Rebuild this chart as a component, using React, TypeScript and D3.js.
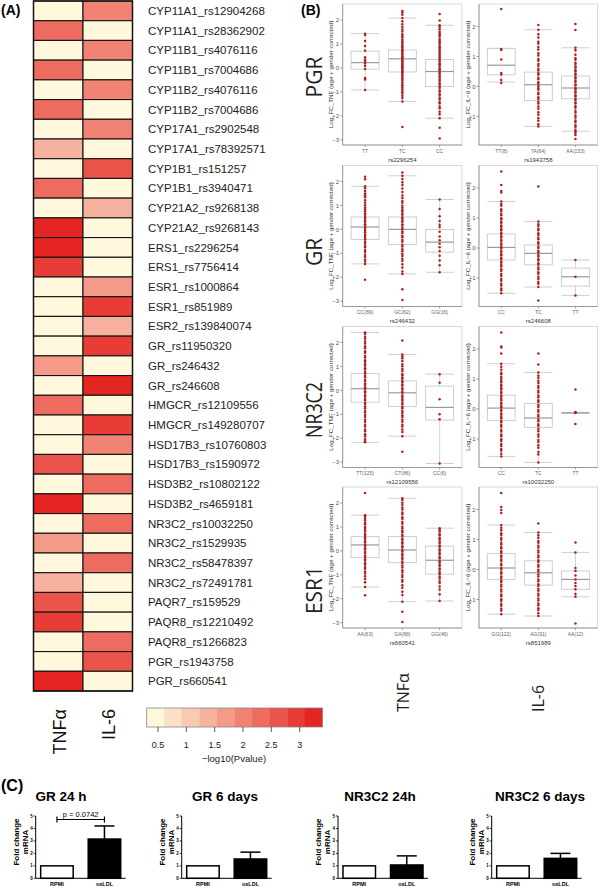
import React from 'react';
import * as d3 from 'd3';

// ---------------- Panel A data ----------------
const snpLabels = [
  'CYP11A1_rs12904268', 'CYP11A1_rs28362902', 'CYP11B1_rs4076116', 'CYP11B1_rs7004686',
  'CYP11B2_rs4076116', 'CYP11B2_rs7004686', 'CYP17A1_rs2902548', 'CYP17A1_rs78392571',
  'CYP1B1_rs151257', 'CYP1B1_rs3940471', 'CYP21A2_rs9268138', 'CYP21A2_rs9268143',
  'ERS1_rs2296254', 'ERS1_rs7756414', 'ESR1_rs1000864', 'ESR1_rs851989',
  'ESR2_rs139840074', 'GR_rs11950320', 'GR_rs246432', 'GR_rs246608',
  'HMGCR_rs12109556', 'HMGCR_rs149280707', 'HSD17B3_rs10760803', 'HSD17B3_rs1590972',
  'HSD3B2_rs10802122', 'HSD3B2_rs4659181', 'NR3C2_rs10032250', 'NR3C2_rs1529935',
  'NR3C2_rs58478397', 'NR3C2_rs72491781', 'PAQR7_rs159529', 'PAQR8_rs12210492',
  'PAQR8_rs1266823', 'PGR_rs1943758', 'PGR_rs660541',
];
const tnfLogP = [
  0, 2.3, 0, 2.3, 0, 2.3, 0, 1.35, 0, 2.3, 0, 3.25,
  3.3, 2.9, 0, 0, 0, 0, 1.7, 0, 2.3, 0, 0, 2.6,
  0, 3.25, 0, 1.7, 0, 1.35, 2.5, 2.85, 0, 0, 3.2,
];
const il6LogP = [
  1.95, 0, 1.95, 0, 1.95, 0, 1.95, 0, 2.6, 0, 1.35, 0,
  0, 0, 1.75, 2.9, 1.35, 2.9, 0, 3.2, 0, 2.85, 2.05, 0,
  2.25, 0, 2.3, 0, 2.25, 0, 0, 0, 2.25, 2.55, 0,
];
const heatColumns = ['TNFα', 'IL-6'];
const legendTicks = [0.5, 1, 1.5, 2, 2.5, 3];
const legendDomain = [0.3, 3.4];
const legendBins = 10;

// ---------------- Panel B data ----------------
const geneRows = ['PGR', 'GR', 'NR3C2', 'ESR1'];
const tnfSnps = ['rs2296254', 'rs246432', 'rs12109556', 'rs660541'];
const il6Snps = ['rs1943758', 'rs246608', 'rs10032250', 'rs851989'];
const tnfGroupLabels = [
  ['TT', 'TC', 'CC'], ['CC(89)', 'GC(62)', 'GG(16)'], ['TT(125)', 'CT(86)', 'CC(6)'], ['AA(63)', 'GA(88)', 'GG(46)'],
];
const il6GroupLabels = [
  ['TT(8)', 'TA(64)', 'AA(153)'], ['CC', 'TC', 'TT'], ['CC', 'TC', 'TT'], ['GG(122)', 'AG(91)', 'AA(12)'],
];
// [lower whisker, Q1, median, Q3, upper whisker]
const pgrTnfStats = [[-0.92, -0.05, 0.22, 0.7, 1.43], [-1.4, -0.17, 0.38, 0.75, 2.08], [-2.1, -0.78, -0.15, 0.35, 1.78]];
const grTnfStats = [[-1.44, -0.42, 0.1, 0.52, 1.8], [-1.86, -0.63, 0.0, 0.52, 2.24], [-1.79, -0.95, -0.53, 0.0, 1.25]];
const nr3c2TnfStats = [[-2.17, -0.49, 0.07, 0.71, 2.42], [-1.91, -0.67, -0.1, 0.4, 1.5], [-3.05, -1.24, -0.71, 0.18, 0.68]];
const esr1TnfStats = [[-1.51, -0.28, 0.25, 0.6, 1.49], [-2.12, -0.49, 0.04, 0.6, 2.2], [-2.09, -0.97, -0.39, 0.2, 0.95]];
const pgrIl6Stats = [[0.15, 0.39, 0.71, 1.27, 1.27], [-1.33, -0.47, 0.06, 0.48, 1.89], [-1.49, -0.41, -0.05, 0.35, 1.29]];
const grIl6Stats = [[-1.51, -0.4, 0.02, 0.47, 1.55], [-1.3, -0.56, -0.18, 0.1, 0.88], [-1.58, -1.27, -0.96, -0.67, -0.4]];
const nr3c2Il6Stats = [[-1.58, -0.38, 0.03, 0.46, 1.51], [-1.78, -0.61, -0.3, 0.18, 1.22], [-0.13, -0.13, -0.13, -0.13, -0.13]];
const esr1Il6Stats = [[-1.49, -0.33, 0.05, 0.53, 1.48], [-1.55, -0.52, -0.11, 0.29, 1.23], [-0.91, -0.66, -0.33, -0.05, 0.57]];

const pgrTnfPoints = [
  [1.43, 1.38, 1.12, 0.92, 0.72, 0.45, 0.35, 0.28, 0.18, 0.08, -0.05, -0.42, -0.48, -0.92],
  [2.38, 2.31, 2.22, 2.08, 1.95, 1.82, 1.71, 1.6, 1.52, 1.41, 1.33, 1.27, 1.18, 1.1, 1.04, 0.97, 0.9, 0.85, 0.79, 0.73, 0.69, 0.62, 0.57, 0.5, 0.46, 0.41, 0.37, 0.31, 0.27, 0.22, 0.16, 0.12, 0.07, 0.02, -0.03, -0.09, -0.14, -0.19, -0.24, -0.31, -0.39, -0.46, -0.53, -0.61, -0.69, -0.76, -0.83, -0.91, -0.99, -1.06, -1.16, -1.26, -1.4, -2.47],
  [2.25, 1.98, 1.78, 1.71, 1.62, 1.51, 1.44, 1.37, 1.31, 1.21, 1.14, 1.07, 1.01, 0.92, 0.86, 0.79, 0.72, 0.67, 0.59, 0.54, 0.46, 0.41, 0.34, 0.29, 0.21, 0.15, 0.09, 0.01, -0.06, -0.11, -0.19, -0.24, -0.33, -0.39, -0.48, -0.54, -0.63, -0.69, -0.78, -0.84, -0.94, -0.99, -1.09, -1.15, -1.26, -1.32, -1.43, -1.49, -1.61, -1.69, -1.83, -1.94, -2.1, -2.5, -2.95],
];
const grTnfPoints = [
  [2.2, 2.1, 1.8, 1.72, 1.61, 1.5, 1.43, 1.34, 1.22, 1.11, 1.01, 0.92, 0.84, 0.76, 0.67, 0.61, 0.52, 0.46, 0.37, 0.31, 0.22, 0.16, 0.08, 0.02, -0.06, -0.12, -0.21, -0.27, -0.36, -0.42, -0.51, -0.57, -0.67, -0.74, -0.86, -0.94, -1.06, -1.14, -1.26, -1.34, -1.44, -2.1],
  [2.38, 2.24, 2.11, 1.97, 1.86, 1.71, 1.56, 1.42, 1.31, 1.19, 1.11, 0.99, 0.91, 0.81, 0.76, 0.67, 0.61, 0.51, 0.46, 0.37, 0.31, 0.21, 0.16, 0.07, 0.01, -0.09, -0.15, -0.26, -0.33, -0.44, -0.51, -0.64, -0.71, -0.83, -0.91, -1.03, -1.11, -1.23, -1.31, -1.46, -1.59, -1.76, -1.86, -2.5, -2.95],
  [1.25, 0.85, 0.55, 0.35, 0.2, 0.1, -0.1, -0.3, -0.45, -0.6, -0.75, -0.9, -1.1, -1.3, -1.5, -1.79],
];
const nr3c2TnfPoints = [
  [2.42, 2.36, 2.24, 2.16, 2.04, 1.96, 1.84, 1.76, 1.64, 1.56, 1.44, 1.37, 1.26, 1.19, 1.09, 1.03, 0.93, 0.87, 0.77, 0.71, 0.61, 0.55, 0.45, 0.39, 0.29, 0.23, 0.13, 0.07, -0.03, -0.09, -0.19, -0.25, -0.35, -0.41, -0.51, -0.57, -0.67, -0.74, -0.85, -0.92, -1.03, -1.11, -1.23, -1.31, -1.43, -1.51, -1.63, -1.71, -1.83, -1.91, -2.03, -2.11, -2.17],
  [2.08, 1.5, 1.43, 1.34, 1.23, 1.09, 1.01, 0.89, 0.81, 0.69, 0.63, 0.54, 0.49, 0.39, 0.33, 0.24, 0.19, 0.09, 0.04, -0.06, -0.11, -0.21, -0.27, -0.37, -0.43, -0.53, -0.59, -0.69, -0.75, -0.86, -0.93, -1.04, -1.11, -1.23, -1.31, -1.43, -1.51, -1.63, -1.74, -1.91, -2.56],
  [0.68, 0.32, -0.37, -1.0, -1.2, -3.05],
];
const esr1TnfPoints = [
  [2.42, 1.49, 1.43, 1.34, 1.27, 1.17, 1.11, 1.01, 0.96, 0.87, 0.81, 0.71, 0.66, 0.57, 0.51, 0.41, 0.36, 0.27, 0.21, 0.11, 0.06, -0.04, -0.09, -0.19, -0.25, -0.35, -0.41, -0.51, -0.57, -0.67, -0.74, -0.86, -0.94, -1.06, -1.17, -1.31, -1.51, -1.85],
  [2.2, 2.13, 2.01, 1.93, 1.81, 1.73, 1.61, 1.53, 1.41, 1.33, 1.21, 1.13, 1.01, 0.94, 0.84, 0.78, 0.68, 0.62, 0.52, 0.46, 0.36, 0.3, 0.2, 0.14, 0.04, -0.02, -0.12, -0.18, -0.28, -0.34, -0.44, -0.5, -0.61, -0.69, -0.81, -0.89, -1.01, -1.09, -1.21, -1.29, -1.43, -1.54, -1.71, -1.84, -2.12, -2.54, -2.97],
  [0.95, 0.87, 0.81, 0.71, 0.65, 0.55, 0.49, 0.39, 0.33, 0.23, 0.17, 0.07, 0.01, -0.09, -0.15, -0.25, -0.31, -0.41, -0.47, -0.57, -0.63, -0.73, -0.79, -0.89, -0.96, -1.07, -1.14, -1.26, -1.34, -1.49, -1.61, -1.81, -2.09],
];
const pgrIl6Points = [
  [2.58, 1.25, 1.22, 0.9, 0.45, 0.4, 0.22, 0.12],
  [2.05, 1.89, 1.74, 1.63, 1.49, 1.43, 1.32, 1.23, 1.11, 1.03, 0.92, 0.86, 0.75, 0.69, 0.59, 0.53, 0.44, 0.39, 0.29, 0.24, 0.14, 0.09, 0.01, -0.06, -0.11, -0.21, -0.26, -0.36, -0.42, -0.51, -0.57, -0.67, -0.74, -0.86, -0.94, -1.06, -1.14, -1.26, -1.33],
  [2.08, 1.88, 1.29, 1.21, 1.06, 0.94, 0.89, 0.79, 0.75, 0.67, 0.63, 0.55, 0.51, 0.43, 0.39, 0.31, 0.27, 0.19, 0.15, 0.07, 0.03, -0.05, -0.09, -0.17, -0.21, -0.29, -0.33, -0.41, -0.45, -0.53, -0.57, -0.66, -0.71, -0.81, -0.87, -0.97, -1.03, -1.13, -1.19, -1.29, -1.35, -1.44, -1.49, -1.55, -1.62, -1.75],
];
const grIl6Points = [
  [2.55, 2.1, 1.9, 1.85, 1.55, 1.47, 1.41, 1.29, 1.23, 1.14, 1.09, 0.99, 0.95, 0.87, 0.83, 0.75, 0.71, 0.63, 0.59, 0.51, 0.47, 0.39, 0.35, 0.27, 0.23, 0.15, 0.11, 0.03, -0.01, -0.09, -0.13, -0.21, -0.25, -0.33, -0.37, -0.45, -0.49, -0.57, -0.62, -0.71, -0.77, -0.87, -0.93, -1.03, -1.09, -1.19, -1.25, -1.35, -1.41, -1.51],
  [2.05, 0.88, 0.79, 0.73, 0.64, 0.59, 0.49, 0.43, 0.34, 0.29, 0.19, 0.14, 0.05, 0.0, -0.09, -0.14, -0.23, -0.28, -0.37, -0.42, -0.51, -0.56, -0.65, -0.71, -0.81, -0.87, -0.97, -1.03, -1.13, -1.19, -1.3, -1.75],
  [-0.4, -0.96, -1.58],
];
const nr3c2Il6Points = [
  [2.55, 2.08, 2.05, 1.85, 1.51, 1.41, 1.31, 1.21, 1.16, 1.07, 1.01, 0.93, 0.89, 0.81, 0.77, 0.69, 0.65, 0.57, 0.53, 0.45, 0.41, 0.33, 0.29, 0.21, 0.17, 0.09, 0.05, -0.03, -0.07, -0.15, -0.19, -0.27, -0.31, -0.39, -0.44, -0.53, -0.59, -0.69, -0.75, -0.85, -0.91, -1.01, -1.07, -1.17, -1.23, -1.33, -1.39, -1.49, -1.58],
  [1.85, 1.48, 1.22, 1.11, 1.03, 0.93, 0.87, 0.77, 0.71, 0.61, 0.55, 0.45, 0.39, 0.29, 0.23, 0.13, 0.07, -0.03, -0.09, -0.19, -0.25, -0.35, -0.41, -0.51, -0.57, -0.67, -0.74, -0.85, -0.92, -1.03, -1.1, -1.21, -1.29, -1.43, -1.52, -1.78],
  [0.65, -0.1, -0.12, -0.13, -0.5],
];
const esr1Il6Points = [
  [2.55, 2.08, 1.98, 1.88, 1.48, 1.39, 1.31, 1.21, 1.15, 1.05, 0.99, 0.89, 0.84, 0.75, 0.7, 0.61, 0.56, 0.47, 0.42, 0.33, 0.28, 0.19, 0.14, 0.05, 0.0, -0.09, -0.14, -0.23, -0.28, -0.37, -0.42, -0.51, -0.57, -0.67, -0.73, -0.83, -0.89, -0.99, -1.05, -1.15, -1.21, -1.31, -1.37, -1.49],
  [1.53, 1.23, 1.14, 1.06, 0.95, 0.89, 0.79, 0.73, 0.63, 0.57, 0.47, 0.41, 0.31, 0.25, 0.15, 0.09, -0.01, -0.07, -0.17, -0.23, -0.33, -0.39, -0.49, -0.55, -0.65, -0.71, -0.81, -0.87, -0.97, -1.03, -1.13, -1.19, -1.29, -1.35, -1.46, -1.55],
  [0.9, 0.57, 0.05, -0.05, -0.2, -0.33, -0.45, -0.55, -0.66, -0.82, -0.91, -1.8],
];
const tnfStatsByRow = [pgrTnfStats, grTnfStats, nr3c2TnfStats, esr1TnfStats];
const il6StatsByRow = [pgrIl6Stats, grIl6Stats, nr3c2Il6Stats, esr1Il6Stats];
const tnfPointsByRow = [pgrTnfPoints, grTnfPoints, nr3c2TnfPoints, esr1TnfPoints];
const il6PointsByRow = [pgrIl6Points, grIl6Points, nr3c2Il6Points, esr1Il6Points];
const tnfYDomain = [-3.22, 2.67];
const il6YDomain = [-1.95, 2.75];
const tnfYTicks = [-3, -2, -1, 0, 1, 2];
const il6YTicks = [-1, 0, 1, 2];
const bottomCytokines = ['TNFα', 'IL-6'];

// ---------------- Panel C data ----------------
const barTitles = ['GR 24 h', 'GR 6 days', 'NR3C2 24h', 'NR3C2 6 days'];
const barCategories = ['RPMI', 'oxLDL'];
const rpmiFold = [1, 1, 1, 1];
const oxldlFold = [3.15, 1.55, 1.07, 1.6];
const oxldlSem = [1.05, 0.55, 0.73, 0.4];
const foldTicks = [0, 1, 2, 3, 4, 5];
const pLabel = 'p = 0.0742';

// ---------------- Layout ----------------
const SANS = 'Liberation Sans, Arial, sans-serif';
const OPEN = 'Open Sans, DejaVu Sans, sans-serif';
const rowTops = [4, 165.5, 326.5, 487];
const boxPanelH = 141;
const rowLabelY = [77, 252, 410, 590];
const barAxisX = [35.7, 181.7, 338, 491.7];
const barTitleX = [61, 225, 380, 540];

const binColors = d3.range(legendBins).map((i) => d3.interpolateRgb('#FFF8DC', '#E52521')(i / (legendBins - 1)));
const colorScale = d3.scaleQuantize<string>().domain(legendDomain).range(binColors);

function Heatmap() {
  const yBand = d3.scaleBand<string>().domain(snpLabels).range([1, 691]);
  const xBand = d3.scaleBand<string>().domain(heatColumns).range([33.5, 132.5]);
  const cols = [tnfLogP, il6LogP];
  const lx = d3.scaleLinear().domain(legendDomain).range([146.7, 322.3]);
  const binW = (lx(legendDomain[1]) - lx(legendDomain[0])) / legendBins;
  return (
    <g>
      {heatColumns.map((c, ci) =>
        snpLabels.map((s, ri) => (
          <rect key={c + s} x={xBand(c)} y={yBand(s)} width={xBand.bandwidth()} height={yBand.bandwidth()}
            fill={colorScale(Math.max(cols[ci][ri], legendDomain[0]))} stroke="#151515" strokeWidth={1.1} />
        ))
      )}
      <rect x={33.5} y={1} width={99} height={690} fill="none" stroke="#111" strokeWidth={1.4} />
      {snpLabels.map((s) => (
        <text key={s} x={148} y={yBand(s)! + yBand.bandwidth() / 2} dy="0.36em" fontSize={11.5} fontFamily={SANS} fill="#222">{s}</text>
      ))}
      {heatColumns.map((c) => (
        <text key={c} transform={`translate(${xBand(c)! + xBand.bandwidth() / 2 + 1},709) rotate(-90)`} dy="0.36em"
          textAnchor="end" fontSize={18} fontFamily={SANS} fill="#111">{c}</text>
      ))}
      {binColors.map((col, i) => (
        <rect key={i} x={lx(legendDomain[0]) + i * binW} y={708} width={binW + 0.3} height={19} fill={col} />
      ))}
      <rect x={146.7} y={708} width={175.6} height={19} fill="none" stroke="#888" strokeWidth={0.8} />
      {legendTicks.map((t) => (
        <g key={t}>
          <line x1={lx(t)} x2={lx(t)} y1={727} y2={732} stroke="#333" strokeWidth={0.8} />
          <text x={lx(t)} y={747.5} textAnchor="middle" fontSize={9} fontFamily={SANS} fill="#222">{t}</text>
        </g>
      ))}
      <text x={234} y={762} textAnchor="middle" fontSize={9.5} fontFamily={SANS} fill="#222">−log10(Pvalue)</text>
    </g>
  );
}

function BoxPanel(props: {
  x0: number; x1: number; top: number; domain: number[]; ticks: number[];
  groups: string[]; stats: number[][]; points: number[][]; yTitle: string; xTitle: string;
}) {
  const { x0, x1, top, domain, ticks, groups, stats, points, yTitle, xTitle } = props;
  const bottom = top + boxPanelH;
  const y = d3.scaleLinear().domain(domain).range([bottom, top]);
  const x = d3.scaleLinear().domain([0.4, groups.length + 0.6]).range([x0, x1]);
  const bw = 0.75 * (x(2) - x(1));
  const boxCol = '#c9c9c9';
  return (
    <g>
      <rect x={x0} y={top} width={x1 - x0} height={boxPanelH} fill="#fff" stroke="#cfcfcf" strokeWidth={0.8} />
      {stats.map((s, i) => {
        const cx = x(i + 1);
        const [lo, q1, med, q3, hi] = s;
        return (
          <g key={i}>
            <line x1={cx} x2={cx} y1={y(hi)} y2={y(q3)} stroke={boxCol} strokeWidth={0.8} />
            <line x1={cx} x2={cx} y1={y(q1)} y2={y(lo)} stroke={boxCol} strokeWidth={0.8} />
            <line x1={cx - bw / 2} x2={cx + bw / 2} y1={y(hi)} y2={y(hi)} stroke={boxCol} strokeWidth={0.9} />
            <line x1={cx - bw / 2} x2={cx + bw / 2} y1={y(lo)} y2={y(lo)} stroke={boxCol} strokeWidth={0.9} />
            <rect x={cx - bw / 2} y={y(q3)} width={bw} height={Math.max(y(q1) - y(q3), 0.01)} fill="#fff" stroke={boxCol} strokeWidth={0.9} />
            <line x1={cx - bw / 2} x2={cx + bw / 2} y1={y(med)} y2={y(med)} stroke="#9a9a9a" strokeWidth={1.2} />
          </g>
        );
      })}
      {points.map((pts, i) =>
        pts.map((v, j) => <circle key={i + '-' + j} cx={x(i + 1)} cy={y(v)} r={1.25} fill="#B01F1F" />)
      )}
      <line x1={x0} x2={x0} y1={top} y2={bottom} stroke="#8a8a8a" strokeWidth={0.8} />
      <line x1={x0} x2={x1} y1={bottom} y2={bottom} stroke="#8a8a8a" strokeWidth={0.8} />
      {ticks.map((t) => (
        <g key={t}>
          <line x1={x0 - 2.5} x2={x0} y1={y(t)} y2={y(t)} stroke="#777" strokeWidth={0.7} />
          <text x={x0 - 3.5} y={y(t)} dy="0.35em" textAnchor="end" fontSize={6} fontFamily={SANS} fill="#555">{t < 0 ? '−' + Math.abs(t) : t}</text>
        </g>
      ))}
      {groups.map((g, i) => (
        <g key={g}>
          <line x1={x(i + 1)} x2={x(i + 1)} y1={bottom} y2={bottom + 2} stroke="#777" strokeWidth={0.7} />
          <text x={x(i + 1)} y={bottom + 7.5} textAnchor="middle" fontSize={5} fontFamily={SANS} fill="#666">{g}</text>
        </g>
      ))}
      <text x={(x0 + x1) / 2} y={bottom + 16.5} textAnchor="middle" fontSize={6} fontFamily={SANS} fill="#333">{xTitle}</text>
      <text transform={`translate(${x0 - 11.5},${(top + bottom) / 2}) rotate(-90)`} textAnchor="middle" dy="0.35em"
        fontSize={6.2} fontFamily={SANS} fill="#333">{yTitle}</text>
    </g>
  );
}

function BarChart(props: { idx: number }) {
  const i = props.idx;
  const ax = barAxisX[i];
  const y = d3.scaleLinear().domain([0, 5]).range([878.3, 816]);
  const x = d3.scaleBand<string>().domain(barCategories).range([ax, ax + 90]).paddingInner(0.316).paddingOuter(0.105);
  const vals = [rpmiFold[i], oxldlFold[i]];
  const bw = x.bandwidth();
  const oxC = x('oxLDL')! + bw / 2;
  const rpC = x('RPMI')! + bw / 2;
  return (
    <g>
      <text x={barTitleX[i]} y={801} textAnchor="middle" fontSize={13.5} fontWeight="bold" fontFamily={SANS} fill="#000">{barTitles[i]}</text>
      {barCategories.map((c, k) => (
        <rect key={c} x={x(c)} y={y(vals[k])} width={bw} height={y(0) - y(vals[k])}
          fill={k === 0 ? '#fff' : '#000'} stroke="#000" strokeWidth={1.5} />
      ))}
      <line x1={oxC} x2={oxC} y1={y(oxldlFold[i])} y2={y(oxldlFold[i] + oxldlSem[i])} stroke="#000" strokeWidth={1.5} />
      <line x1={oxC - 10} x2={oxC + 10} y1={y(oxldlFold[i] + oxldlSem[i])} y2={y(oxldlFold[i] + oxldlSem[i])} stroke="#000" strokeWidth={1.5} />
      <line x1={ax} x2={ax} y1={y(5)} y2={y(0)} stroke="#000" strokeWidth={1} />
      <line x1={ax} x2={ax + 90} y1={y(0)} y2={y(0)} stroke="#000" strokeWidth={1} />
      {foldTicks.map((t) => (
        <g key={t}>
          <line x1={ax - 2} x2={ax} y1={y(t)} y2={y(t)} stroke="#000" strokeWidth={0.8} />
          <text x={ax - 3} y={y(t)} dy="0.35em" textAnchor="end" fontSize={4.5} fontWeight="bold" fontFamily={SANS}>{t}</text>
        </g>
      ))}
      {barCategories.map((c) => (
        <text key={c} x={x(c)! + bw / 2} y={886} textAnchor="middle" fontSize={5.5} fontWeight="bold" fontFamily={SANS}>{c}</text>
      ))}
      <text transform={`translate(${ax - 20},842) rotate(-90)`} textAnchor="middle" dy="0.35em" fontSize={8} fontWeight="bold" fontFamily={SANS}>Fold change</text>
      <text transform={`translate(${ax - 11},842) rotate(-90)`} textAnchor="middle" dy="0.35em" fontSize={8} fontWeight="bold" fontFamily={SANS}>mRNA</text>
      {i === 0 && (
        <g>
          <line x1={rpC} x2={oxC} y1={819.5} y2={819.5} stroke="#000" strokeWidth={1.2} />
          <line x1={rpC} x2={rpC} y1={816.5} y2={822.5} stroke="#000" strokeWidth={1.2} />
          <line x1={oxC} x2={oxC} y1={816.5} y2={822.5} stroke="#000" strokeWidth={1.2} />
          <text x={(rpC + oxC) / 2} y={816.5} textAnchor="middle" fontSize={7.5} fontFamily={SANS}>{pLabel}</text>
        </g>
      )}
    </g>
  );
}

export default function App() {
  return (
    <svg width={600} height={888} viewBox="0 0 600 888"
      style={{ position: 'absolute', left: 0, top: 0, display: 'block', background: '#fff' }}>
      <rect x={0} y={0} width={600} height={888} fill="#fff" />
      <text x={1} y={14.5} fontSize={14} fontWeight="bold" fontFamily={SANS}>(A)</text>
      <text x={301} y={14.5} fontSize={14} fontWeight="bold" fontFamily={SANS}>(B)</text>
      <text x={1} y={791} fontSize={16} fontWeight="bold" fontFamily={SANS}>(C)</text>
      <Heatmap />
      {geneRows.map((g, r) => (
        <g key={g}>
          <text transform={`translate(314,${rowLabelY[r]}) rotate(-90)`} textAnchor="middle" dy="0.36em" fontSize={21}
            fontFamily={OPEN} fill="#222" {...(g === 'NR3C2' ? { textLength: 56, lengthAdjust: 'spacingAndGlyphs' } : {})}>{g}</text>
          <BoxPanel x0={342.7} x1={462} top={rowTops[r]} domain={tnfYDomain} ticks={tnfYTicks}
            groups={tnfGroupLabels[r]} stats={tnfStatsByRow[r]} points={tnfPointsByRow[r]}
            yTitle="Log_FC_TNF (age + gender corrected)" xTitle={tnfSnps[r]} />
          <BoxPanel x0={479} x1={597.7} top={rowTops[r]} domain={il6YDomain} ticks={il6YTicks}
            groups={il6GroupLabels[r]} stats={il6StatsByRow[r]} points={il6PointsByRow[r]}
            yTitle="Log_FC_IL−6 (age + gender corrected)" xTitle={il6Snps[r]} />
        </g>
      ))}
      {bottomCytokines.map((c, i) => (
        <text key={c} transform={`translate(${i === 0 ? 403 : 538},712) rotate(-90)`} dy="0.36em" fontSize={16}
          fontFamily={OPEN} fill="#222">{c}</text>
      ))}
      {barTitles.map((t, i) => <BarChart key={t} idx={i} />)}
    </svg>
  );
}
